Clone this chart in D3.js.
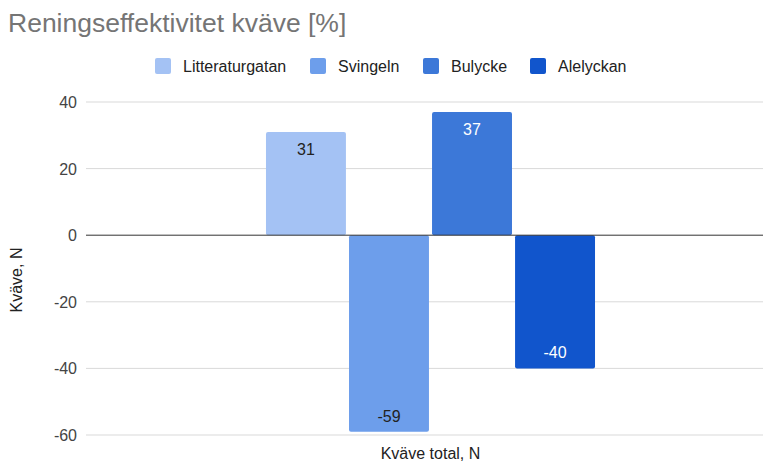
<!DOCTYPE html>
<html>
<head>
<meta charset="UTF-8" />
<title>Reningseffektivitet kväve</title>
<script src="https://d3js.org/d3.v7.min.js"></script>
<style>
  body { margin: 0; background: #fff; }
  svg { font-family: "Liberation Sans", Arial, sans-serif; display: block; }
</style>
</head>
<body>
<svg id="chart" width="763" height="462"></svg>
<script>
const categories = ['Kväve total, N'];
const series = ['Litteraturgatan', 'Svingeln', 'Bulycke', 'Alelyckan'];
const values = [31, -59, 37, -40];
const colors = ['#a4c2f4', '#6d9eeb', '#3c78d8', '#1155cc'];
const labelColors = ['#222', '#222', '#fff', '#fff'];
const yTicks = [-60, -40, -20, 0, 20, 40];

const width = 763, height = 462;
const svg = d3.select('#chart');

const y = d3.scaleLinear().domain([-60, 40]).range([435, 102]);
const x0 = d3.scaleBand().domain(categories).range([86, 775]).paddingOuter(0.547);
const x1 = d3.scaleBand().domain(series).range([0, x0.bandwidth()]).paddingInner(0.037).paddingOuter(0);

// title
svg.append('text')
  .attr('x', 8).attr('y', 32)
  .attr('font-size', 26.5).attr('fill', '#757575')
  .text('Reningseffektivitet kväve [%]');

// legend
const legendX = [155, 310, 423, 530];
const lg = svg.append('g').selectAll('g').data(series).join('g')
  .attr('transform', (d, i) => `translate(${legendX[i]},58)`);
lg.append('rect').attr('width', 16).attr('height', 16).attr('rx', 2)
  .attr('fill', (d, i) => colors[i]);
lg.append('text').attr('x', 28).attr('y', 14)
  .attr('font-size', 16).attr('fill', '#222').text(d => d);

// grid + y axis
const grid = svg.append('g');
grid.selectAll('line').data(yTicks.filter(t => t !== 0)).join('line')
  .attr('x1', 86).attr('x2', width)
  .attr('y1', d => y(d)).attr('y2', d => y(d))
  .attr('stroke', '#d9d9d9').attr('stroke-width', 1);
svg.append('g').selectAll('text').data(yTicks).join('text')
  .attr('x', 77).attr('y', d => y(d) + 6)
  .attr('text-anchor', 'end').attr('font-size', 16).attr('fill', '#444')
  .text(d => d);

// bars
const bars = svg.append('g');
bars.selectAll('rect').data(values).join('rect')
  .attr('x', (d, i) => x0(categories[0]) + x1(series[i]))
  .attr('width', x1.bandwidth())
  .attr('y', d => y(Math.max(0, d)))
  .attr('height', d => Math.abs(y(d) - y(0)))
  .attr('rx', 2)
  .attr('fill', (d, i) => colors[i]);

// zero line
svg.append('line')
  .attr('x1', 86).attr('x2', width)
  .attr('y1', y(0)).attr('y2', y(0))
  .attr('stroke', '#333').attr('stroke-width', 1);

// value labels
svg.append('g').selectAll('text').data(values).join('text')
  .attr('x', (d, i) => x0(categories[0]) + x1(series[i]) + x1.bandwidth() / 2)
  .attr('y', d => d > 0 ? y(d) + 23 : y(d) - 10)
  .attr('text-anchor', 'middle').attr('font-size', 16)
  .attr('fill', (d, i) => labelColors[i])
  .text(d => d);

// axis titles
svg.append('text')
  .attr('x', x0(categories[0]) + x0.bandwidth() / 2).attr('y', 459)
  .attr('text-anchor', 'middle').attr('font-size', 16).attr('fill', '#222')
  .text(categories[0]);
svg.append('text')
  .attr('transform', 'translate(22,280) rotate(-90)')
  .attr('text-anchor', 'middle').attr('font-size', 16).attr('fill', '#222')
  .text('Kväve, N');
</script>
</body>
</html>
